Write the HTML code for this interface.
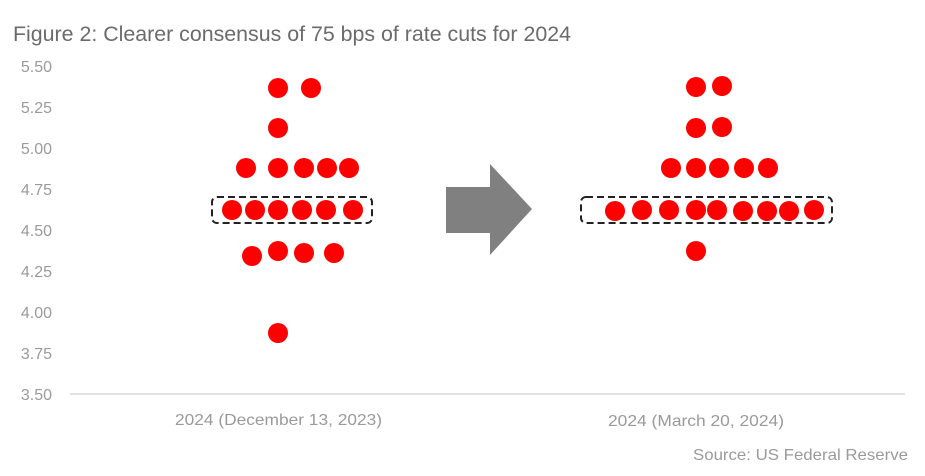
<!DOCTYPE html>
<html><head><meta charset="utf-8"><style>
html,body{margin:0;padding:0;background:#fff;width:925px;height:476px;overflow:hidden}
svg{display:block}
text{font-family:"Liberation Sans",sans-serif}
</style></head><body>
<svg width="925" height="476" viewBox="0 0 925 476" xmlns="http://www.w3.org/2000/svg">
<text x="13" y="41" font-size="21" fill="#6b6b6b" textLength="558" lengthAdjust="spacingAndGlyphs">Figure 2: Clearer consensus of 75 bps of rate cuts for 2024</text>
<g font-size="16" fill="#9a9a9a" text-anchor="end">
<text x="52" y="72">5.50</text>
<text x="52" y="113">5.25</text>
<text x="52" y="154">5.00</text>
<text x="52" y="195">4.75</text>
<text x="52" y="236">4.50</text>
<text x="52" y="277">4.25</text>
<text x="52" y="318">4.00</text>
<text x="52" y="359">3.75</text>
<text x="52" y="400">3.50</text>
</g>
<line x1="70" y1="394" x2="905" y2="394" stroke="#d9d9d9" stroke-width="1.5"/>
<g font-size="16" fill="#9a9a9a">
<text x="175" y="425" textLength="207" lengthAdjust="spacingAndGlyphs">2024 (December 13, 2023)</text>
<text x="608" y="426" textLength="176" lengthAdjust="spacingAndGlyphs">2024 (March 20, 2024)</text>
<text x="693" y="460" textLength="215" lengthAdjust="spacingAndGlyphs">Source: US Federal Reserve</text>
</g>
<polygon points="446,187 490,187 490,164 532,209 490,255 490,233 446,233" fill="#808080"/>
<g fill="none" stroke="#222" stroke-width="2" stroke-dasharray="7,4">
<rect x="212" y="197" width="160" height="26" rx="5"/>
<rect x="581" y="197" width="251" height="26" rx="5"/>
</g>
<g fill="#ff0000">
<circle cx="278" cy="88" r="10"/><circle cx="311" cy="88" r="10"/>
<circle cx="278" cy="128" r="10"/>
<circle cx="246" cy="168" r="10"/><circle cx="278" cy="168" r="10"/><circle cx="304" cy="168" r="10"/><circle cx="327" cy="168" r="10"/><circle cx="349" cy="168" r="10"/>
<circle cx="232" cy="210" r="10"/><circle cx="255" cy="210" r="10"/><circle cx="278" cy="210" r="10"/><circle cx="302" cy="210" r="10"/><circle cx="326" cy="210" r="10"/><circle cx="353" cy="210" r="10"/>
<circle cx="252" cy="256" r="10"/><circle cx="278" cy="251" r="10"/><circle cx="304" cy="253" r="10"/><circle cx="334" cy="253" r="10"/>
<circle cx="278" cy="333" r="10"/>
<circle cx="696" cy="87" r="10"/><circle cx="722" cy="86" r="10"/>
<circle cx="696" cy="128" r="10"/><circle cx="722" cy="127" r="10"/>
<circle cx="671" cy="168" r="10"/><circle cx="696" cy="168" r="10"/><circle cx="719" cy="168" r="10"/><circle cx="744" cy="168" r="10"/><circle cx="768" cy="168" r="10"/>
<circle cx="615" cy="211" r="10"/><circle cx="642" cy="210" r="10"/><circle cx="669" cy="210" r="10"/><circle cx="696" cy="210" r="10"/><circle cx="717" cy="210" r="10"/><circle cx="743" cy="211" r="10"/><circle cx="767" cy="211" r="10"/><circle cx="789" cy="211" r="10"/><circle cx="814" cy="210" r="10"/>
<circle cx="696" cy="251" r="10"/>
</g>
</svg>
</body></html>
